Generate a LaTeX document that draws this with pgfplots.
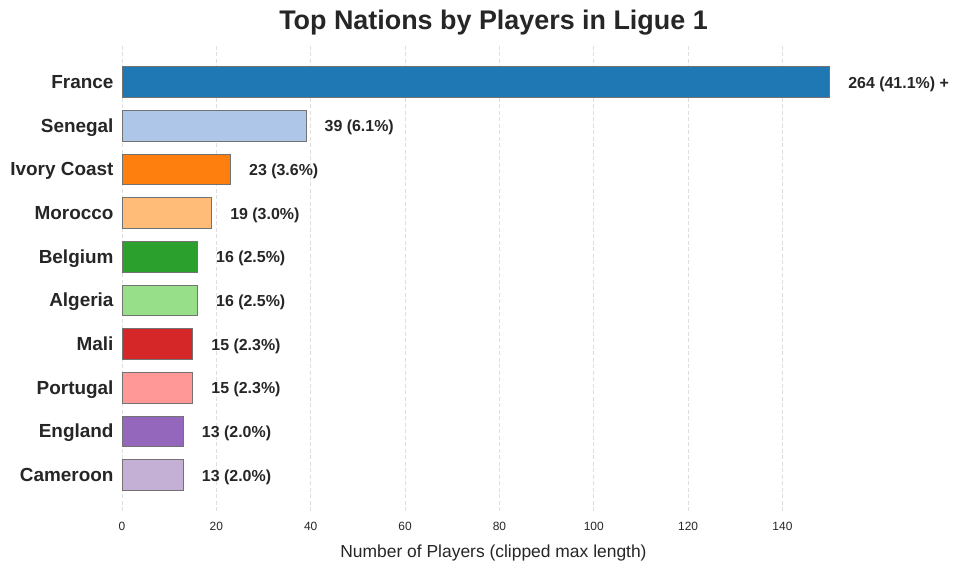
\documentclass[border=0pt]{standalone}
\usepackage{pgfplots}
\pgfplotsset{compat=1.18}
\usepackage{fontspec}
\setmainfont{Liberation Sans}
\definecolor{txt}{HTML}{262626}
\definecolor{c0}{HTML}{1F77B4}
\definecolor{c1}{HTML}{AEC7E8}
\definecolor{c2}{HTML}{FF7F0E}
\definecolor{c3}{HTML}{FFBB78}
\definecolor{c4}{HTML}{2CA02C}
\definecolor{c5}{HTML}{98DF8A}
\definecolor{c6}{HTML}{D62728}
\definecolor{c7}{HTML}{FF9896}
\definecolor{c8}{HTML}{9467BD}
\definecolor{c9}{HTML}{C5B0D5}
\begin{document}
\begin{tikzpicture}
\path[use as bounding box] (-122bp,-60.5bp) rectangle (838bp,511.5bp);
\begin{axis}[
  at={(0,0)}, anchor=south west,
  scale only axis, width=743bp, height=466bp,
  xbar, bar shift=0pt, bar width=0.7,
  xmin=0, xmax=157.5, ymin=-0.835, ymax=9.835, y dir=reverse,
  axis line style={draw=none},
  major tick length=0pt,
  xtick={0,20,...,140},
  ytick={0,...,9},
  yticklabels={France,Senegal,Ivory Coast,Morocco,Belgium,Algeria,Mali,Portugal,England,Cameroon},
  yticklabel style={font=\fontsize{19}{21}\selectfont\bfseries, text=txt, text height=0.72em, text depth=0pt},
  xticklabel style={font=\fontsize{12}{14}\selectfont, text=txt},
  /pgf/number format/assume math mode=true,
  x tick label style={yshift=-7bp},
  y tick label style={xshift=-5bp, yshift=-3bp},
  xmajorgrids, ymajorgrids=false,
  major grid style={dash pattern=on 4bp off 2.5bp, draw=black!13, line width=0.8pt},
  xlabel={Number of Players (clipped max length)},
  xlabel style={font=\fontsize{17.5}{19}\selectfont, text=txt, yshift=-8bp},
  title={Top Nations by Players in Ligue 1},
  title style={font=\fontsize{27}{30}\selectfont\bfseries, text=txt, yshift=1bp},
  point meta=explicit symbolic,
  nodes near coords,
  nodes near coords style={anchor=west, xshift=15bp, yshift=-2.5bp, font=\fontsize{16}{18}\selectfont\bfseries, text=txt, text height=0.72em, text depth=0pt},
  every axis plot/.append style={draw=black!55, line width=0.7pt},
  clip=false,
]
\addplot[fill=c0] coordinates {(150,0) [264 (41.1\%) +]};
\addplot[fill=c1] coordinates {(39,1) [39 (6.1\%)]};
\addplot[fill=c2] coordinates {(23,2) [23 (3.6\%)]};
\addplot[fill=c3] coordinates {(19,3) [19 (3.0\%)]};
\addplot[fill=c4] coordinates {(16,4) [16 (2.5\%)]};
\addplot[fill=c5] coordinates {(16,5) [16 (2.5\%)]};
\addplot[fill=c6] coordinates {(15,6) [15 (2.3\%)]};
\addplot[fill=c7] coordinates {(15,7) [15 (2.3\%)]};
\addplot[fill=c8] coordinates {(13,8) [13 (2.0\%)]};
\addplot[fill=c9] coordinates {(13,9) [13 (2.0\%)]};
\end{axis}
\end{tikzpicture}
\end{document}
